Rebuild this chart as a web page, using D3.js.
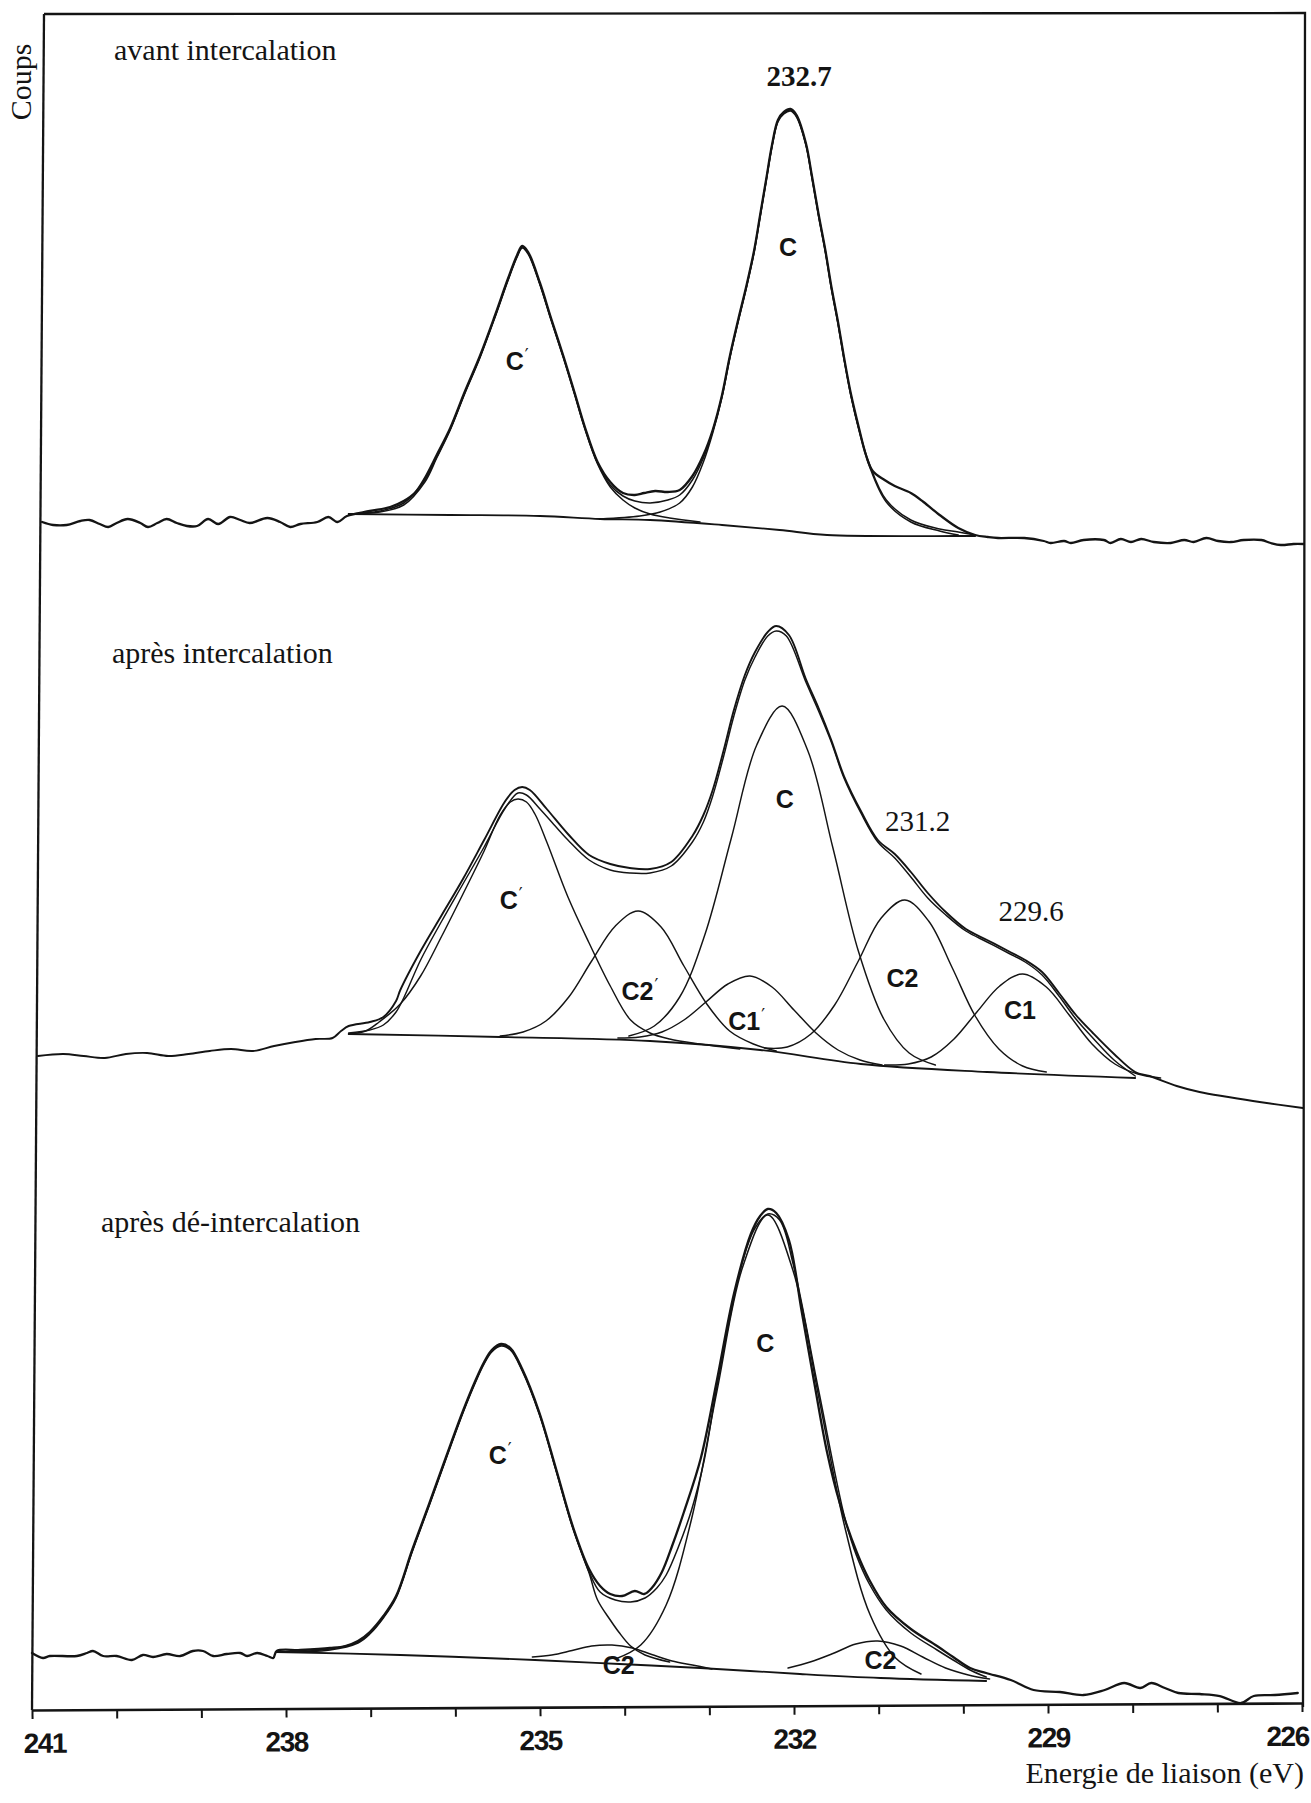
<!DOCTYPE html>
<html>
<head>
<meta charset="utf-8">
<script src="https://cdn.jsdelivr.net/npm/d3@7"></script>
<style>
  html, body { margin: 0; padding: 0; background: #ffffff; }
  svg { display: block; }
</style>
</head>
<body>
<svg id="chart" width="1311" height="1803"></svg>
<script>
// ---------------- DATA (binding energy in eV, intensity in arbitrary counts) ----------------
const minorTickValues = [241,240,239,238,237,236,235,234,233,232,231,230,229,228,227,226];
const tickLabelValues = [241,238,235,232,229,226];
const panelTitles = ["avant intercalation", "après intercalation", "après dé-intercalation"];
const axisTitleX = "Energie de liaison (eV)";
const axisTitleY = "Coups";

// Panel 1 : avant intercalation
const p1Experimental = [[240.88,76],[240.75,70],[240.59,70],[240.43,78],[240.32,80],[240.20,72],[240.10,66],[240.00,74],[239.87,82],[239.72,74],[239.63,66],[239.52,74],[239.41,82],[239.29,74],[239.17,68],[239.05,68],[238.92,82],[238.80,72],[238.66,86],[238.54,80],[238.43,74],[238.22,84],[238.07,76],[237.95,66],[237.83,72],[237.63,76],[237.50,86],[237.39,76],[237.28,88],[237.01,98],[236.77,106],[236.61,118],[236.48,134],[236.36,164],[236.22,210],[236.06,264],[235.89,336],[235.71,408],[235.53,490],[235.38,562],[235.27,610],[235.21,628],[235.14,616],[235.00,554],[234.87,484],[234.72,406],[234.59,334],[234.47,266],[234.32,196],[234.17,156],[234.02,134],[233.88,130],[233.77,134],[233.64,138],[233.49,136],[233.35,140],[233.20,168],[233.07,210],[232.96,260],[232.85,330],[232.76,406],[232.66,480],[232.56,550],[232.47,620],[232.40,690],[232.33,760],[232.26,830],[232.19,880],[232.12,896],[232.04,902],[231.97,890],[231.86,834],[231.79,770],[231.71,692],[231.63,620],[231.56,548],[231.48,476],[231.41,406],[231.33,334],[231.23,262],[231.15,210],[231.07,178],[230.93,160],[230.81,148],[230.62,134],[230.47,116],[230.28,90],[230.06,64],[229.86,50],[229.71,46],[229.59,44],[229.28,44],[229.05,38],[228.97,34],[228.81,38],[228.73,34],[228.58,40],[228.34,40],[228.26,34],[228.14,42],[228.02,36],[227.90,42],[227.75,36],[227.55,34],[227.39,40],[227.28,36],[227.13,44],[226.99,38],[226.84,36],[226.69,40],[226.48,40],[226.37,34],[226.25,30],[226.10,32],[225.98,32]];
const p1Envelope = [[237.26,92],[236.89,98],[236.61,114],[236.36,160],[236.22,206],[236.06,262],[235.89,334],[235.71,406],[235.53,488],[235.38,560],[235.27,608],[235.21,626],[235.14,614],[235.00,552],[234.87,482],[234.72,404],[234.59,332],[234.47,264],[234.32,194],[234.17,150],[234.02,128],[233.88,118],[233.70,114],[233.49,120],[233.35,130],[233.20,160],[233.07,204],[232.96,258],[232.85,328],[232.76,404],[232.66,478],[232.56,548],[232.47,618],[232.40,688],[232.33,758],[232.26,828],[232.19,878],[232.12,894],[232.04,900],[231.97,888],[231.86,832],[231.79,768],[231.71,690],[231.63,618],[231.56,546],[231.48,474],[231.41,404],[231.33,332],[231.23,260],[231.11,192],[230.91,120],[230.62,80],[230.28,62],[230.06,56],[229.86,50]];
const p1CPrime = [[237.26,92],[236.89,96],[236.61,110],[236.36,156],[236.22,204],[236.06,260],[235.89,332],[235.71,404],[235.53,486],[235.38,558],[235.27,606],[235.21,624],[235.14,612],[235.00,550],[234.87,480],[234.72,402],[234.59,330],[234.47,262],[234.32,192],[234.17,146],[234.02,120],[233.88,104],[233.70,92],[233.47,84],[233.11,76]];
const p1C = [[234.29,82],[233.82,88],[233.58,96],[233.35,114],[233.20,146],[233.07,196],[232.96,254],[232.85,326],[232.76,402],[232.66,476],[232.56,546],[232.47,616],[232.40,686],[232.33,756],[232.26,826],[232.19,876],[232.12,892],[232.04,898],[231.97,886],[231.86,830],[231.79,766],[231.71,688],[231.63,616],[231.56,544],[231.48,472],[231.41,402],[231.33,330],[231.23,258],[231.11,188],[230.91,116],[230.62,76],[230.28,58],[230.06,50]];
const p1Background = [[237.26,92],[236.06,90],[235.00,88],[234.29,82],[233.70,80],[232.85,70],[232.17,60],[231.61,50],[230.06,48],[229.86,48]];

// Panel 2 : après intercalation
const p2Experimental = [[240.93,108],[240.63,112],[240.39,108],[240.14,104],[239.89,112],[239.64,114],[239.39,108],[239.15,112],[238.90,118],[238.65,122],[238.39,118],[238.14,128],[237.89,136],[237.65,142],[237.45,144],[237.35,158],[237.26,168],[237.01,176],[236.85,186],[236.70,218],[236.65,240],[236.41,318],[236.16,390],[235.91,462],[235.66,540],[235.41,618],[235.30,640],[235.21,646],[235.12,640],[234.92,602],[234.67,552],[234.42,510],[234.17,492],[233.94,484],[233.70,482],[233.45,496],[233.20,548],[233.07,590],[232.96,640],[232.83,720],[232.71,800],[232.58,870],[232.46,916],[232.31,956],[232.21,968],[232.06,950],[231.86,862],[231.71,804],[231.56,740],[231.41,668],[231.21,598],[231.01,540],[230.81,512],[230.62,476],[230.42,434],[230.22,398],[229.97,362],[229.72,340],[229.47,318],[229.27,300],[229.07,276],[228.87,234],[228.67,190],[228.47,154],[228.22,112],[227.97,76],[227.80,68],[227.48,48],[227.21,36],[226.87,26],[226.50,16],[225.99,4]];
const p2Envelope = [[237.26,154],[237.01,160],[236.85,170],[236.70,196],[236.61,224],[236.41,300],[236.16,378],[235.91,452],[235.66,526],[235.41,604],[235.26,634],[235.16,630],[235.00,602],[234.81,566],[234.67,540],[234.42,500],[234.17,480],[233.94,474],[233.70,474],[233.45,488],[233.20,536],[233.07,576],[232.96,628],[232.83,708],[232.71,788],[232.58,860],[232.46,906],[232.31,948],[232.21,958],[232.09,948],[231.86,856],[231.71,798],[231.56,736],[231.41,664],[231.21,594],[231.01,536],[230.81,504],[230.62,466],[230.42,424],[230.22,392],[229.97,358],[229.72,336],[229.47,314],[229.27,296],[229.07,270],[228.87,228],[228.67,182],[228.47,144],[228.22,100],[227.97,68]];
const p2CPrime = [[237.26,152],[237.06,158],[236.90,176],[236.65,212],[236.41,268],[236.16,348],[235.91,432],[235.66,518],[235.47,590],[235.35,616],[235.26,622],[235.16,616],[235.06,592],[234.92,536],[234.67,426],[234.42,334],[234.17,248],[233.93,180],[233.70,154],[233.47,142],[233.11,132],[232.64,122]];
const p2C2Prime = [[235.47,148],[235.20,156],[234.93,178],[234.66,226],[234.39,298],[234.11,368],[233.84,398],[233.57,366],[233.30,288],[233.03,212],[232.76,158],[232.48,132],[232.21,118]];
const p2C1Prime = [[234.08,144],[233.82,146],[233.56,156],[233.30,180],[233.04,216],[232.78,252],[232.52,268],[232.26,246],[232.00,200],[231.74,154],[231.48,120],[231.22,100],[230.96,90]];
const p2C = [[233.95,148],[233.65,168],[233.35,226],[233.05,352],[232.74,544],[232.44,730],[232.14,808],[231.84,720],[231.54,524],[231.24,318],[230.94,182],[230.64,114],[230.33,90]];
const p2C2 = [[232.35,124],[232.08,126],[231.80,152],[231.52,210],[231.24,298],[230.97,384],[230.69,420],[230.41,378],[230.13,284],[229.86,188],[229.58,122],[229.30,88],[229.02,76]];
const p2C1 = [[230.93,90],[230.65,92],[230.38,106],[230.11,142],[229.84,196],[229.57,248],[229.30,272],[229.02,246],[228.75,190],[228.48,132],[228.21,92],[227.94,72],[227.67,64]];
const p2Background = [[237.26,152],[235.47,146],[233.70,138],[232.40,120],[231.21,92],[229.72,76],[227.97,64]];

// Panel 3 : après dé-intercalation
const p3Experimental = [[241.00,114],[240.87,104],[240.79,108],[240.47,108],[240.35,114],[240.28,118],[240.16,108],[240.00,108],[239.82,100],[239.69,110],[239.57,106],[239.41,112],[239.25,108],[239.10,118],[238.98,118],[238.86,108],[238.70,112],[238.54,114],[238.46,108],[238.34,114],[238.22,108],[238.15,104],[238.11,118],[237.83,120],[237.48,124],[237.30,128],[237.15,138],[237.01,156],[236.85,188],[236.70,228],[236.51,320],[236.31,412],[236.11,506],[235.91,598],[235.76,660],[235.66,696],[235.57,720],[235.46,732],[235.35,724],[235.21,682],[235.01,596],[234.81,482],[234.61,366],[234.42,282],[234.29,248],[234.17,232],[234.03,228],[233.88,238],[233.77,232],[233.68,244],[233.56,276],[233.44,328],[233.30,396],[233.10,504],[232.91,660],[232.71,832],[232.51,952],[232.40,988],[232.31,1002],[232.21,994],[232.06,940],[231.91,798],[231.76,654],[231.61,516],[231.46,414],[231.26,316],[231.11,260],[230.91,206],[230.62,162],[230.31,128],[230.12,106],[229.92,84],[229.73,74],[229.44,60],[229.17,40],[228.86,36],[228.58,30],[228.33,40],[228.10,54],[227.91,44],[227.78,54],[227.62,44],[227.46,34],[227.21,32],[226.97,28],[226.72,14],[226.57,28],[226.32,30],[226.05,34]];
const p3Envelope = [[238.12,116],[237.48,122],[237.15,136],[237.01,154],[236.85,186],[236.70,226],[236.51,318],[236.31,410],[236.11,504],[235.91,596],[235.76,658],[235.66,694],[235.57,718],[235.46,730],[235.35,722],[235.21,680],[235.01,594],[234.81,480],[234.61,364],[234.42,276],[234.29,236],[234.11,220],[233.93,216],[233.76,224],[233.62,244],[233.51,270],[233.37,324],[233.21,400],[233.06,500],[232.91,648],[232.61,896],[232.46,964],[232.31,992],[232.17,980],[232.01,892],[231.71,640],[231.40,384],[231.26,308],[231.11,252],[230.91,200],[230.62,154],[230.31,120],[230.12,100],[229.92,80],[229.73,66]];
const p3CPrime = [[238.12,116],[237.48,120],[237.15,134],[237.01,152],[236.85,184],[236.70,224],[236.51,316],[236.31,408],[236.11,502],[235.91,594],[235.76,656],[235.66,692],[235.57,716],[235.46,728],[235.35,720],[235.21,678],[235.01,592],[234.81,478],[234.61,362],[234.42,274],[234.32,220],[234.17,180],[234.07,156],[233.93,128],[233.76,110],[233.47,96]];
const p3C = [[234.11,102],[233.81,130],[233.51,210],[233.21,382],[232.91,638],[232.61,884],[232.31,990],[232.01,878],[231.71,628],[231.40,366],[231.10,190],[230.80,104],[230.50,72]];
const p3C2Prime = [[235.09,106],[234.86,110],[234.62,119],[234.39,128],[234.15,130],[233.91,124],[233.68,111],[233.44,98],[233.20,90],[232.97,82]];
const p3C2 = [[232.07,84],[231.81,96],[231.54,113],[231.27,132],[231.01,138],[230.74,128],[230.48,106],[230.21,84],[229.94,70],[229.69,62]];
const p3Background = [[238.12,116],[236.65,110],[235.06,100],[234.06,92],[233.11,84],[231.93,72],[230.98,64],[229.73,58]];

// Annotations: [label, energy, intensity]
const p1Labels = [["C'",235.27,398],["C",232.07,626]];
const p2Labels = [["C'",235.34,420],["C2'",233.82,238],["C",232.11,622],["C1'",232.56,178],["C2",230.72,264],["C1",229.33,200]];
const p3Labels = [["C'",235.47,510],["C",232.34,734],["C2",234.07,90],["C2",230.98,100]];
const p1Values = [["232.7",231.94,948]];
const p2Values = [["231.2",230.54,558],["229.6",229.20,378]];

// ---------------- LAYOUT ----------------
const svg = d3.select("#chart");
const INK = "#141414";
const x = d3.scaleLinear().domain([241, 226]).range([32, 1302]);
const panelLayout = [
  { base: 560,  top: 60,   title: [114, 60]   },
  { base: 1110, top: 610,  title: [112, 663]  },
  { base: 1710, top: 1210, title: [101, 1232] }
];
const yScales = panelLayout.map(p => d3.scaleLinear().domain([0, 1000]).range([p.base, p.top]));

const panels = [
  { series: [[p1Background,1.8],[p1CPrime,1.5],[p1C,1.5],[p1Envelope,1.5],[p1Experimental,2.3]], labels: p1Labels, values: p1Values, bold: true },
  { series: [[p2Background,1.8],[p2CPrime,1.45],[p2C2Prime,1.45],[p2C1Prime,1.45],[p2C,1.45],[p2C2,1.45],[p2C1,1.45],[p2Envelope,1.45],[p2Experimental,1.9]], labels: p2Labels, values: p2Values, bold: false },
  { series: [[p3Background,1.8],[p3CPrime,1.5],[p3C,1.5],[p3C2Prime,1.5],[p3C2,1.5],[p3Envelope,1.5],[p3Experimental,2.3]], labels: p3Labels, values: [], bold: false }
];

// Frame
svg.append("path").attr("d", "M44,14 L1305,13 L1303,1707").attr("fill", "none").attr("stroke", INK).attr("stroke-width", 2.3);
svg.append("path").attr("d", "M44,14 L32,1710").attr("fill", "none").attr("stroke", INK).attr("stroke-width", 2.3);

panels.forEach((panel, i) => {
  const y = yScales[i];
  const line = d3.line().x(d => x(d[0])).y(d => y(d[1])).curve(d3.curveCatmullRom.alpha(0.5));
  const g = svg.append("g").attr("class", "panel-" + (i + 1));
  panel.series.forEach(([data, w]) => {
    g.append("path").datum(data).attr("d", line)
      .attr("fill", "none").attr("stroke", INK).attr("stroke-width", w)
      .attr("stroke-linejoin", "round").attr("stroke-linecap", "round");
  });
  // component labels
  panel.labels.forEach(([txt, e, v]) => {
    const base = txt.replace("'", "");
    const t = g.append("text").attr("x", x(e)).attr("y", y(v)).attr("dy", "0.36em")
      .attr("text-anchor", "middle").attr("font-family", "'Liberation Sans', Arial, sans-serif")
      .attr("font-weight", "bold").attr("font-size", 25).attr("fill", INK).text(base);
    if (txt.includes("'")) {
      t.append("tspan").attr("font-family", "'DejaVu Sans', sans-serif").attr("font-weight", "normal")
        .attr("font-size", 17).attr("dx", 1).attr("dy", "-0.55em").text("\u2032");
    }
  });
  // peak energy annotations
  panel.values.forEach(([txt, e, v]) => {
    g.append("text").attr("x", x(e)).attr("y", y(v)).attr("text-anchor", "middle")
      .attr("font-family", "'Liberation Serif', 'Times New Roman', serif")
      .attr("font-weight", panel.bold ? "bold" : "normal")
      .attr("font-size", 29).attr("fill", INK).text(txt);
  });
  // panel title
  svg.append("text").attr("x", panelLayout[i].title[0]).attr("y", panelLayout[i].title[1])
    .attr("font-family", "'Liberation Serif', 'Times New Roman', serif").attr("font-size", 30)
    .attr("fill", INK).text(panelTitles[i]);
});

// Bottom axis
const axis = d3.axisBottom(x).tickValues(minorTickValues).tickSize(9).tickSizeOuter(0).tickPadding(14)
  .tickFormat(d => tickLabelValues.includes(d) ? String(d) : "");
const gAxis = svg.append("g").attr("transform", "translate(0,1710) rotate(-0.316 32 0)").call(axis);
gAxis.attr("font-family", "'Liberation Sans', Arial, sans-serif").attr("font-size", 28).attr("font-weight", "bold");
gAxis.select(".domain").attr("stroke", INK).attr("stroke-width", 2.6);
gAxis.selectAll(".tick line").attr("stroke", INK).attr("stroke-width", 2);
gAxis.selectAll(".tick text").attr("fill", INK).attr("letter-spacing", "-1.5px").each(function(d) {
  if (d === 241) d3.select(this).attr("text-anchor", "start").attr("dx", -9);
  if (d === 226) d3.select(this).attr("text-anchor", "end").attr("dx", 6);
});

// Axis titles
svg.append("text").attr("x", 1304).attr("y", 1783).attr("text-anchor", "end")
  .attr("font-family", "'Liberation Serif', 'Times New Roman', serif").attr("font-size", 30)
  .attr("fill", INK).text(axisTitleX);
svg.append("text").attr("transform", "translate(31,82) rotate(-90)").attr("text-anchor", "middle")
  .attr("font-family", "'Liberation Serif', 'Times New Roman', serif").attr("font-size", 30)
  .attr("fill", INK).text(axisTitleY);
</script>
</body>
</html>
